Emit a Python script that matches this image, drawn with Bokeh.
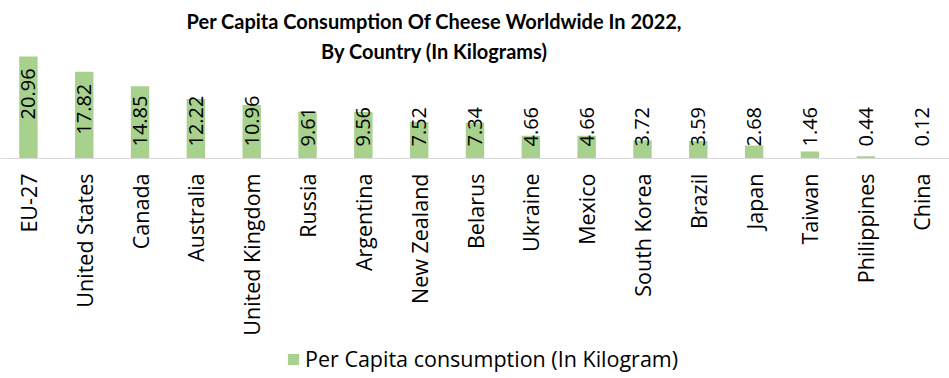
import math
from bokeh.plotting import figure
from bokeh.layouts import column
from bokeh.models import ColumnDataSource, FactorRange, Range1d, Label, Legend, LegendItem
from bokeh.core.properties import value
from bokeh.embed import file_html
from bokeh.resources import INLINE

countries = ["EU-27", "United States", "Canada", "Australia", "United Kingdom", "Russia",
             "Argentina", "New Zealand", "Belarus", "Ukraine", "Mexico", "South Korea",
             "Brazil", "Japan", "Taiwan", "Philippines", "China"]
consumption = [20.96, 17.82, 14.85, 12.22, 10.96, 9.61, 9.56, 7.52, 7.34, 4.66, 4.66,
               3.72, 3.59, 2.68, 1.46, 0.44, 0.12]
series_name = "Per Capita consumption (In Kilogram)"
title_lines = ["Per Capita Consumption Of Cheese Worldwide In 2022,", "By Country (In Kilograms)"]

BAR = "#A9D18E"
FONT = "Open Sans"
W, H = 949, 378
H1 = 340              # chart figure height; the rest holds the legend
axis_y = 158          # canvas y of the category axis
px_per_unit = 4.87
label_fs = 20
pad = 12

labels = [f"{v:.2f}" for v in consumption]

p = figure(width=W, height=H1, output_backend="svg", toolbar_location=None,
           x_range=FactorRange(factors=countries, range_padding=0),
           y_range=Range1d(0, axis_y / px_per_unit),
           min_border_left=0, min_border_right=0, min_border_top=0,
           min_border_bottom=H1 - axis_y)
p.title.visible = False
p.outline_line_color = None
p.background_fill_color = "white"
p.border_fill_color = "white"
p.xgrid.visible = False
p.ygrid.visible = False
p.yaxis.visible = False

src = ColumnDataSource(dict(x=countries, y=consumption, t=labels))
bars = p.vbar(x="x", top="y", width=0.33, source=src, fill_color=BAR, line_color=None)

# data labels: near bar end when they fit, otherwise sit near the baseline
top_idx, bot_idx = [], []
for i, (v, t) in enumerate(zip(consumption, labels)):
    est_len = label_fs * (0.572 * (len(t) - 1) + 0.27)
    if v * px_per_unit - pad - est_len >= pad:
        top_idx.append(i)
    else:
        bot_idx.append(i)

src_top = ColumnDataSource(dict(x=[countries[i] for i in top_idx],
                                y=[consumption[i] for i in top_idx],
                                t=[labels[i] for i in top_idx]))
src_bot = ColumnDataSource(dict(x=[countries[i] for i in bot_idx],
                                y=[0] * len(bot_idx),
                                t=[labels[i] for i in bot_idx]))
common = dict(text="t", angle=math.pi / 2, text_baseline="middle",
              text_font_size=f"{label_fs}px", text_color="black")
p.text(x="x", y="y", source=src_top, text_align="right", y_offset=pad,
       text_font=value(FONT), **common)
p.text(x="x", y="y", source=src_bot, text_align="left", y_offset=-pad,
       text_font=value(FONT), **common)

ax = p.xaxis[0]
ax.axis_line_color = "#D9D9D9"
ax.axis_line_width = 1
ax.major_tick_line_color = None
ax.minor_tick_line_color = None
ax.major_tick_out = 0
ax.major_tick_in = 0
ax.major_label_orientation = math.pi / 2
ax.major_label_standoff = 15
ax.major_label_text_font = FONT
ax.major_label_text_font_size = "21.5px"
ax.major_label_text_color = "black"

# title lines
for k, line in enumerate(title_lines):
    p.add_layout(Label(x=434, y=axis_y - 20 - 30 * k, x_units="screen", y_units="screen",
                       text=line, text_align="center", text_baseline="middle",
                       text_font="Lato", text_font_style="bold", text_font_size="20px",
                       text_color="black"))

# legend strip under the chart (same series, drawn outside this strip's view)
p2 = figure(width=W, height=H - H1, output_backend="svg", toolbar_location=None,
            x_range=FactorRange(factors=countries, range_padding=0),
            y_range=Range1d(1000, 1001),
            min_border_left=0, min_border_right=0, min_border_top=0, min_border_bottom=0)
p2.title.visible = False
p2.axis.visible = False
p2.grid.visible = False
p2.outline_line_color = None
p2.background_fill_color = "white"
p2.border_fill_color = "white"
swatch = p2.rect(x="x", y="y", width=0.33, height=1, source=src,
                 fill_color=BAR, line_color=None)

legend = Legend(items=[LegendItem(label=series_name, renderers=[swatch])],
                location=(286, 5), orientation="horizontal",
                border_line_color=None, background_fill_alpha=0,
                label_text_font=FONT, label_text_font_size="21.5px",
                label_text_color="black",
                glyph_width=14, glyph_height=14, label_standoff=5,
                padding=0, margin=0)
p2.add_layout(legend)

layout = column(p, p2, spacing=0)
open("out.html", "w").write(file_html(layout, INLINE))
